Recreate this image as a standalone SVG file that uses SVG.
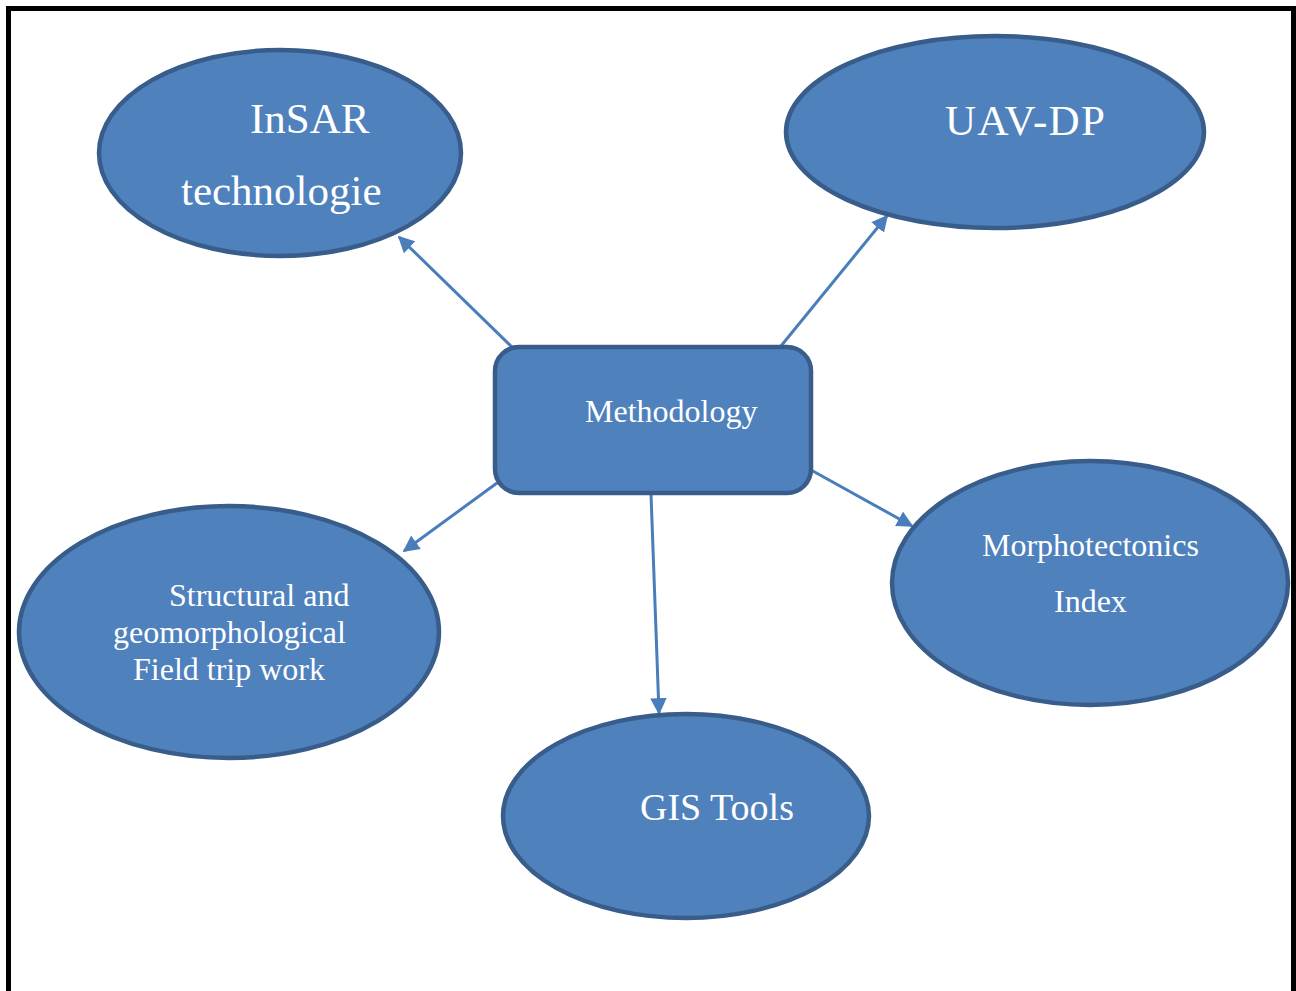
<svg xmlns="http://www.w3.org/2000/svg" width="1296" height="991" viewBox="0 0 1296 991">
<style>
.node{fill:#4F81BD;stroke:#385D8A;stroke-width:4.5}
.t{fill:#fff;font-family:"Liberation Serif","Times New Roman",serif}
.c{stroke:#4A7EBB;stroke-width:3;fill:none;marker-end:url(#ah)}
</style>
<defs>
<marker id="ah" viewBox="0 0 10 10" refX="9" refY="5" markerWidth="5.5" markerHeight="5.5" markerUnits="strokeWidth" orient="auto">
<path d="M0,0 L10,5 L0,10 z" fill="#4A7EBB"/>
</marker>
</defs>
<rect width="1296" height="991" fill="#fff"/>
<path d="M8.5,995 V8.5 H1293.5 V995" fill="none" stroke="#000" stroke-width="5"/>
<g id="connectors">
<line class="c" x1="515" y1="350" x2="399" y2="237"/>
<line class="c" x1="781" y1="346" x2="887" y2="216"/>
<line class="c" x1="497" y1="483" x2="404" y2="551"/>
<line class="c" x1="811" y1="470" x2="912" y2="526"/>
<line class="c" x1="651" y1="494" x2="659" y2="713"/>
</g>
<g id="insar">
<ellipse class="node" cx="280" cy="153" rx="181" ry="103"/>
<text class="t" x="250" y="133" font-size="43">InSAR</text>
<text class="t" x="181" y="205" font-size="43">technologie</text>
</g>
<g id="uavdp">
<ellipse class="node" cx="995" cy="132" rx="209" ry="96"/>
<text class="t" x="945" y="135" font-size="43" textLength="160" lengthAdjust="spacing">UAV-DP</text>
</g>
<g id="methodology">
<rect class="node" x="495" y="347" width="316" height="146" rx="24"/>
<text class="t" x="585" y="422" font-size="32">Methodology</text>
</g>
<g id="morpho">
<ellipse class="node" cx="1090" cy="583" rx="198" ry="122"/>
<text class="t" x="982" y="556" font-size="32">Morphotectonics</text>
<text class="t" x="1054" y="612" font-size="32">Index</text>
</g>
<g id="structural">
<ellipse class="node" cx="229" cy="632" rx="210" ry="126"/>
<text class="t" x="169" y="606" font-size="32">Structural and</text>
<text class="t" x="113" y="643" font-size="32">geomorphological</text>
<text class="t" x="133" y="680" font-size="32">Field trip work</text>
</g>
<g id="gis">
<ellipse class="node" cx="686" cy="816" rx="183" ry="102"/>
<text class="t" x="640" y="820" font-size="38">GIS Tools</text>
</g>
</svg>
